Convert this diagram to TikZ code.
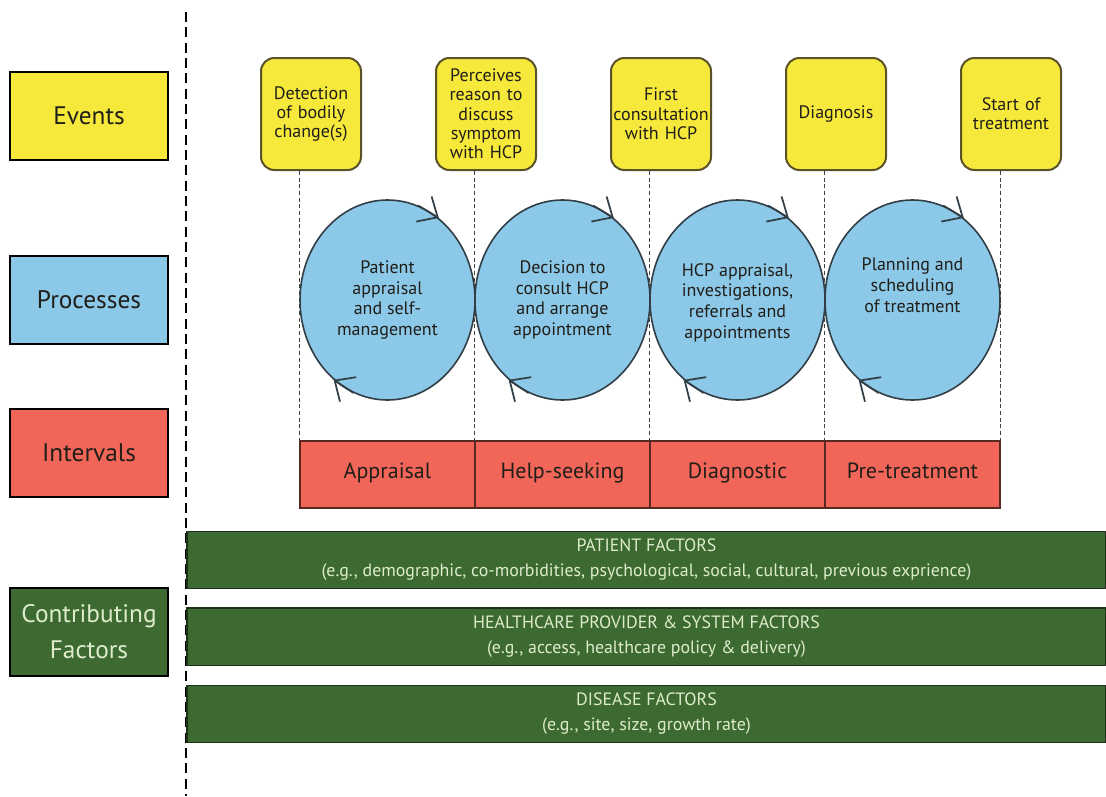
\documentclass[tikz,border=0pt]{standalone}
\usepackage{fontspec}
\setmainfont{PT Sans}
\usepackage{tikz}
\usetikzlibrary{shapes.geometric,arrows.meta}
\definecolor{evyellow}{RGB}{247,233,60}
\definecolor{evedge}{RGB}{90,82,40}
\definecolor{prblue}{RGB}{140,200,232}
\definecolor{prline}{RGB}{50,62,70}
\definecolor{inred}{RGB}{242,102,90}
\definecolor{inedge}{RGB}{90,40,34}
\definecolor{cfgreen}{RGB}{60,106,48}
\definecolor{cfedge}{RGB}{30,48,24}
\definecolor{cftext}{RGB}{222,236,204}
\definecolor{ink}{RGB}{32,30,24}
\tikzstyle{head} = [draw=black,line width=2.2pt,minimum width=118.5pt,minimum height=66pt,align=center,text=ink,font=\fontsize{19}{27}\selectfont]
\tikzstyle{event} = [draw=evedge,line width=1.5pt,fill=evyellow,rounded corners=10pt,minimum width=75pt,minimum height=84pt,text width=75pt,inner sep=0pt,align=center,text=ink,font=\fontsize{13.5}{14.5}\selectfont]
\tikzstyle{process} = [ellipse,draw=prline,line width=1.2pt,fill=prblue,minimum width=131.25pt,minimum height=150pt,inner sep=0pt]
\tikzstyle{proctext} = [align=center,text=ink,font=\fontsize{13.5}{15.5}\selectfont]
\tikzstyle{interval} = [draw=inedge,line width=1.2pt,fill=inred,minimum width=131.25pt,minimum height=50pt,inner sep=0pt,text height=1.6ex,text depth=.45ex,text=ink,font=\fontsize{16.5}{18}\selectfont]
\tikzstyle{factor} = [draw=cfedge,line width=1pt,fill=cfgreen,minimum width=689.25pt,minimum height=43pt,inner sep=0pt,align=center,text=cftext,font=\fontsize{13.4}{18.75}\selectfont]
\tikzstyle{divider} = [line width=2.2pt,dash pattern=on 7.5pt off 4pt]
\tikzstyle{link} = [line width=1pt,draw=black!75,dash pattern=on 3pt off 2pt]
\tikzstyle{spin} = [-{Straight Barb[length=12pt,width=22pt]},line width=1.3pt,draw=prline]

\begin{document}
\begin{tikzpicture}[x=0.75pt,y=-0.75pt]
          \useasboundingbox (0,0) rectangle (1106,796);
          \coordinate (dtop) at (186,12);
          \coordinate (dbot) at (186,796);
          \draw[divider] (dtop) -- (dbot);

          \node[head, fill=evyellow] at (89,116) (hev) {Events};
          \node[head, fill=prblue] at (89,300) (hpr) {Processes};
          \node[head, fill=inred] at (89,453) (hin) {Intervals};
          \node[head, fill=cfgreen, text=cftext] at (89,632) (hcf) {Contributing\\Factors};

          \node[event] at (311,114) (e1) {Detection\\of bodily\\change(s)};
          \node[event] at (486,114) (e2) {Perceives\\reason to\\discuss\\symptom\\with HCP};
          \node[event] at (661,114) (e3) {First\\consultation\\with HCP};
          \node[event] at (836,114) (e4) {Diagnosis};
          \node[event] at (1011,114) (e5) {Start of\\treatment};

          \node[interval] at (387.5,474.5) (i1) {Appraisal};
          \node[interval] at (562.5,474.5) (i2) {Help-seeking};
          \node[interval] at (737.5,474.5) (i3) {Diagnostic};
          \node[interval] at (912.5,474.5) (i4) {Pre-treatment};

          \draw[link] (e1.south -| i1.north west) -- (i1.north west);
          \draw[link] (e2.south -| i2.north west) -- (i2.north west);
          \draw[link] (e3.south -| i3.north west) -- (i3.north west);
          \draw[link] (e4.south -| i4.north west) -- (i4.north west);
          \draw[link] (e5.south -| i4.north east) -- (i4.north east);

          \node[process] at (387.5,300) (p1) {};
          \node[process] at (562.5,300) (p2) {};
          \node[process] at (737.5,300) (p3) {};
          \node[process] at (912.5,300) (p4) {};
          \node[proctext] at (p1) {Patient\\appraisal\\and self-\\management};
          \node[proctext] at (p2) {Decision to\\consult HCP\\and arrange\\appointment};
          \node[proctext] at ([yshift=-2pt]p3.center) {HCP appraisal,\\investigations,\\referrals and\\appointments};
          \node[proctext] at ([yshift=11pt]p4.center) {Planning and\\scheduling\\of treatment};
          \foreach \p in {p1,p2,p3,p4} {
            \draw[spin] (\p.72) -- (\p.58);
            \draw[spin] (\p.250) -- (\p.236);
          }

          \node[factor] at (646.5,560) (f1) {PATIENT FACTORS\\(e.g., demographic, co-morbidities, psychological, social, cultural, previous exprience)};
          \node[factor] at (646.5,636.5) (f2) {HEALTHCARE PROVIDER \& SYSTEM FACTORS\\(e.g., access, healthcare policy \& delivery)};
          \node[factor] at (646.5,714) (f3) {DISEASE FACTORS\\(e.g., site, size, growth rate)};
        \end{tikzpicture}
\end{document}
